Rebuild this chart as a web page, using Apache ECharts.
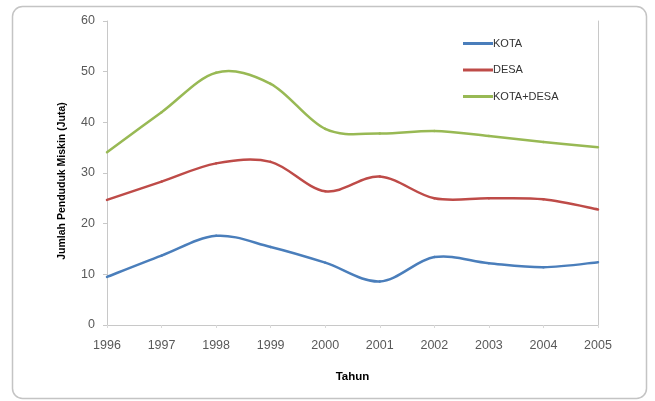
<!DOCTYPE html>
<html>
<head>
<meta charset="utf-8">
<script src="https://cdn.jsdelivr.net/npm/echarts@6/dist/echarts.min.js"></script>
<style>
  html, body { margin: 0; padding: 0; background: #fff; }
  #chart { width: 655px; height: 401px; }
</style>
</head>
<body>
<div id="chart"></div>
<script>
// Jumlah penduduk miskin di Indonesia (juta jiwa), 1996–2005
const years = ['1996', '1997', '1998', '1999', '2000', '2001', '2002', '2003', '2004', '2005'];
const kota = [9.5, 13.7, 17.6, 15.4, 12.3, 8.6, 13.4, 12.2, 11.4, 12.4];
const desa = [24.7, 28.3, 31.9, 32.2, 26.4, 29.3, 25.0, 25.0, 24.8, 22.8];
const kotaDesa = [34.1, 42.0, 49.8, 47.6, 38.7, 37.8, 38.3, 37.3, 36.1, 35.1];
const seriesNames = ['KOTA', 'DESA', 'KOTA+DESA'];
const seriesColors = ['#4A7EBB', '#BE4B48', '#98B954'];

const font = 'Liberation Sans, Arial, sans-serif';
const chart = echarts.init(document.getElementById('chart'), null, { renderer: 'canvas' });

// Smoothed line drawn as Catmull-Rom segments through the data points,
// each segment i -> i+1 placed with the axes' own coordinate mapping.
function smoothSeries(name, values, color) {
  return {
    name: name,
    type: 'custom',
    coordinateSystem: 'cartesian2d',
    xAxisIndex: 0,
    yAxisIndex: 0,
    itemStyle: { color: color },
    data: values.map((v, i) => [i, v]),
    renderItem: function (params, api) {
      const i = api.value(0);
      const n = values.length;
      if (i >= n - 1) return null;
      const pt = (j) => {
        const k = Math.max(0, Math.min(n - 1, j));
        return api.coord([k, values[k]]);
      };
      const p0 = pt(i - 1), p1 = pt(i), p2 = pt(i + 1), p3 = pt(i + 2);
      return {
        type: 'bezierCurve',
        shape: {
          x1: p1[0], y1: p1[1],
          x2: p2[0], y2: p2[1],
          cpx1: p1[0] + (p2[0] - p0[0]) / 6,
          cpy1: p1[1] + (p2[1] - p0[1]) / 6,
          cpx2: p2[0] - (p3[0] - p1[0]) / 6,
          cpy2: p2[1] - (p3[1] - p1[1]) / 6
        },
        style: { stroke: color, lineWidth: 2.5, fill: null, lineCap: 'round' }
      };
    }
  };
}

const allValues = [kota, desa, kotaDesa];
const lineSeries = allValues.map((data, i) => smoothSeries(seriesNames[i], data, seriesColors[i]));

chart.setOption({
  animation: false,
  backgroundColor: '#ffffff',
  graphic: [{
    type: 'rect',
    shape: { x: 12.5, y: 6.5, width: 634, height: 392, r: 10 },
    style: { fill: 'none', stroke: '#c4c4c4', lineWidth: 1.5 },
    z: -1
  }, {
    type: 'text',
    x: 62,
    y: 181,
    rotation: Math.PI / 2,
    style: {
      text: 'Jumlah Penduduk Miskin (Juta)',
      font: 'bold 10.5px ' + font,
      fill: '#000',
      align: 'center',
      verticalAlign: 'middle'
    }
  }],
  grid: { left: 107, right: 57, top: 21, bottom: 76 },
  legend: {
    orient: 'vertical',
    left: 458,
    top: 33,
    itemWidth: 30,
    itemHeight: 14,
    itemGap: 15.5,
    icon: 'path://M0,0 L10,0 L10,1 L0,1 Z',
    data: seriesNames,
    textStyle: { fontFamily: font, fontSize: 11, color: '#333', padding: [0, 0, 0, -5] }
  },
  xAxis: [{
    type: 'category',
    data: years,
    boundaryGap: false,
    name: 'Tahun',
    nameLocation: 'middle',
    nameGap: 46,
    nameTextStyle: { fontFamily: font, fontSize: 11.5, fontWeight: 'bold', color: '#000' },
    axisLine: { show: false },
    axisTick: { show: true, length: 3, inside: false, lineStyle: { color: '#d9d9d9' } },
    axisLabel: { fontFamily: font, fontSize: 12.5, color: '#595959', margin: 14 },
    splitLine: { show: false }
  }, {
    type: 'category',
    data: years,
    boundaryGap: false,
    position: 'top',
    axisLine: { show: true, lineStyle: { color: '#c8c8c8', width: 1 } },
    axisTick: { show: false },
    axisLabel: { show: false },
    splitLine: { show: false }
  }],
  yAxis: [{
    type: 'value',
    min: 0,
    max: 60,
    interval: 10,
    axisLine: { show: true, lineStyle: { color: '#c8c8c8', width: 1 } },
    axisTick: { show: true, length: 4, lineStyle: { color: '#c8c8c8' } },
    axisLabel: { fontFamily: font, fontSize: 12.5, color: '#595959', margin: 12 },
    splitLine: { show: false }
  }, {
    type: 'value',
    min: 0,
    max: 60,
    interval: 10,
    position: 'right',
    axisLine: { show: true, lineStyle: { color: '#c8c8c8', width: 1 } },
    axisTick: { show: false },
    axisLabel: { show: false },
    splitLine: { show: false }
  }],
  series: lineSeries
});
</script>
</body>
</html>
